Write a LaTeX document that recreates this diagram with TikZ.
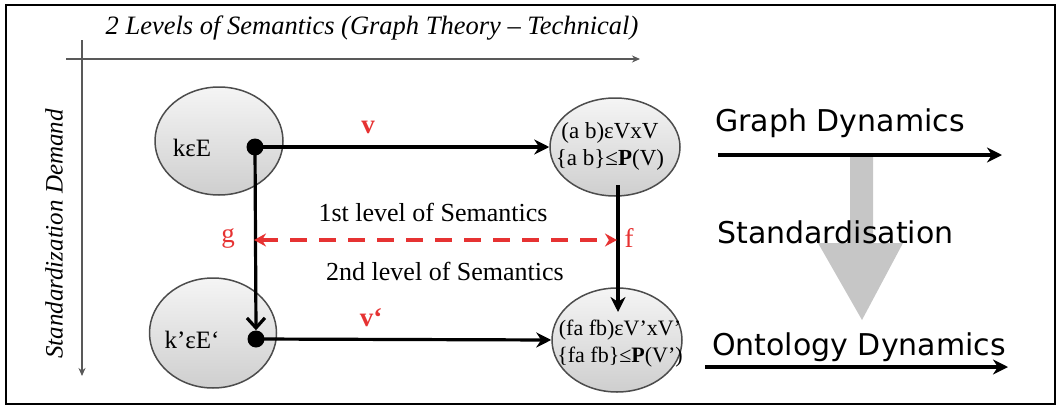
\documentclass[tikz,border=0pt]{standalone}
\usepackage{fontspec}
\setmainfont{Liberation Serif}
\newfontfamily\comicf{DejaVu Sans}
\usetikzlibrary{arrows.meta,shapes.geometric,shadings}
\definecolor{lblred}{RGB}{230,50,50}
\tikzset{
  bubble/.style={ellipse, draw=gray!60!black, line width=1.5pt, top color=gray!8, bottom color=gray!38, inner sep=0pt},
  dotn/.style={circle, fill=black, minimum size=17pt, inner sep=0pt},
  conn/.style={line width=3.2pt, -{Stealth[length=15pt,width=15pt]}},
  barb/.style={line width=3.2pt, -{Straight Barb[length=10pt,width=18pt,line width=3.2pt]}},
  axis/.style={gray!70!black, line width=1.8pt, -{Stealth[length=8pt,width=7pt]}},
  sertext/.style={font=\fontsize{26}{30}\selectfont, inner sep=0pt},
  inell/.style={font=\fontsize{23}{26}\selectfont, inner sep=0pt},
  redl/.style={font=\fontsize{27}{30}\selectfont, text=lblred, inner sep=0pt},
  comictext/.style={font=\comicf\fontsize{30}{34}\selectfont, inner sep=0pt},
  bigarrow/.style={fill=gray!45, draw=none}
}
\begin{document}
\begin{tikzpicture}[x=1pt,y=-1pt]
\useasboundingbox (0,0) rectangle (1058,407);
\draw[line width=1.8pt] (6,5) rectangle (1055,404);
% axes
\coordinate (hx0) at (66,59);
\coordinate (hx1) at (640,59);
\coordinate (vy0) at (82,40);
\coordinate (vy1) at (82,376);
\draw[axis] (hx0) -- (hx1);
\draw[axis] (vy0) -- (vy1);
\node[sertext, font=\itshape\fontsize{26.5}{30}\selectfont] (title) at (372,28) {2 Levels of Semantics (Graph Theory -- Technical)};
\node[sertext, font=\itshape\fontsize{25}{28}\selectfont, rotate=90] (sdem) at (54,234) {Standardization Demand};
% big gray arrow
\path[bigarrow] (850,155) -- (873,155) -- (873,243) -- (903,243) -- (862,320) -- (818,243) -- (850,243) -- cycle;
% ellipses
\node[bubble, minimum width=128pt, minimum height=108pt] (e1) at (219,141) {};
\node[bubble, minimum width=130pt, minimum height=98pt] (e2) at (615,147) {};
\node[bubble, minimum width=127pt, minimum height=110pt] (e3) at (213,333) {};
\node[bubble, minimum width=130pt, minimum height=104pt] (e4) at (617,340) {};
% ellipse texts
\node[sertext, font=\fontsize{25}{28}\selectfont] (t1) at (192,148) {kεE};
\node[inell] (t2a) at (610,133) {(a b)εVxV};
\node[inell] (t2b) at (610,160) {\{a b\}≤\textbf{P}(V)};
\node[sertext, font=\fontsize{25}{28}\selectfont] (t3) at (192,340) {k’εE‘};
\node[inell, font=\fontsize{22}{26}\selectfont] (t4a) at (620,330) {(fa fb)εV’xV’};
\node[inell, font=\fontsize{22}{26}\selectfont] (t4b) at (620,357) {\{fa fb\}≤\textbf{P}(V’)};
% dots
\node[dotn] (d1) at (255,147) {};
\node[dotn] (d2) at (256,339) {};
% connectors
\draw[conn] (d1.center) -- (e2.west);
\draw[conn] (d2.center) -- (e4.west);
\draw[barb] (d1.center) -- (d2.north);
\coordinate (fs) at (618,185);
\coordinate (fe) at (618,312);
\draw[conn] (fs) -- (fe);
% red labels
\node[redl, font=\bfseries\fontsize{27}{30}\selectfont] (v) at (368,127) {v};
\node[redl, font=\bfseries\fontsize{27}{30}\selectfont] (v2) at (371,318) {v‘};
\node[redl] (g) at (228,238) {g};
\node[redl] (f) at (629,238) {f};
\coordinate (gl) at (254,240);
\coordinate (fr) at (617,240);
\draw[lblred, line width=3.2pt, dash pattern=on 17pt off 12pt, {Stealth[length=12pt,width=13pt]}-{Stealth[length=12pt,width=13pt]}] (gl) -- (fr);
\node[sertext] (l1) at (433,212) {1st level of Semantics};
\node[sertext] (l2) at (445,271) {2nd level of Semantics};
% right side
\node[comictext, anchor=west] (gd) at (715,123) {Graph Dynamics};
\coordinate (ga) at (718,155);
\coordinate (gb) at (1002,155);
\draw[conn] (ga) -- (gb);
\node[comictext, anchor=west] (st) at (717,232) {Standardisation};
\node[comictext, anchor=west] (od) at (712,347) {Ontology Dynamics};
\coordinate (oa) at (705,367);
\coordinate (ob) at (1008,367);
\draw[conn] (oa) -- (ob);
\end{tikzpicture}
\end{document}
